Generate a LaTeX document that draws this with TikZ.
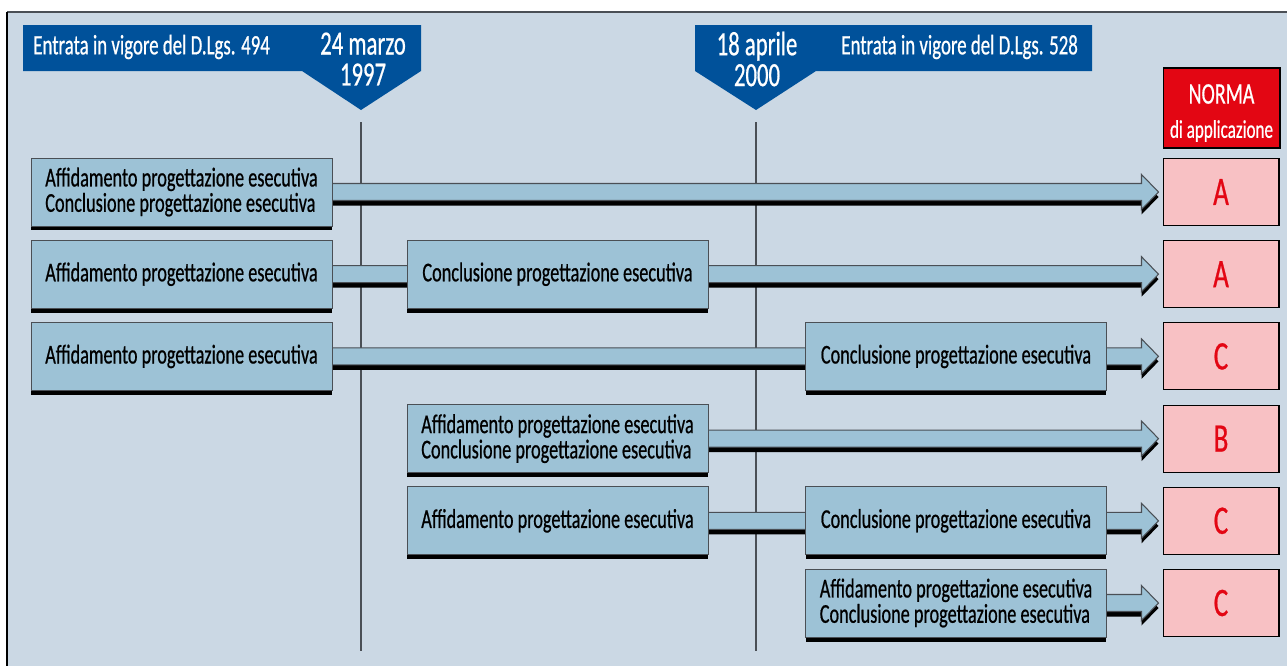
\documentclass[tikz,border=0pt]{standalone}
\usepackage{fontspec}
\setmainfont[FakeStretch=0.67, FakeBold=0.6]{Carlito}
\usetikzlibrary{calc,shadows}
\pgfdeclarelayer{bg}
\pgfsetlayers{bg,main}

\definecolor{panel}{HTML}{CBD8E4}
\definecolor{bluebar}{HTML}{00519A}
\definecolor{boxblue}{HTML}{9DC2D6}
\definecolor{pinkbox}{HTML}{F8C1C4}
\definecolor{normared}{HTML}{E30613}
\definecolor{edge}{HTML}{4A4F55}

\tikzset{
  phase/.style={draw=edge, line width=0.5pt, fill=boxblue, align=left,
    minimum width=6.02cm, minimum height=1.36cm, inner sep=0pt,
    font=\fontsize{15.5}{14.4}\selectfont,
    drop shadow={shadow xshift=0cm, shadow yshift=-0.09cm, opacity=1, fill=black}},
  norm/.style={draw=black, line width=0.6pt, fill=pinkbox, text=normared,
    minimum width=2.32cm, minimum height=1.34cm, font=\fontsize{23}{23}\selectfont},
  shaftbody/.style={fill=boxblue, draw=edge, line width=0.6pt},
  shaftshadow/.style={fill=black},
  bannertext/.style={text=white, inner sep=0pt, align=center},
  dateline/.style={draw=edge, line width=0.8pt},
}

% arrow shaft from a phase box to its norm box (#3 = downward offset)
\newcommand\shaftpath[3]{($(#1.east)+(-3,-8.5+#3)$) -- ($(#2.west)+(-21,-8.5+#3)$)
  -- ++(0,-9) -- ($(#2.west)+(-4,#3)$) -- ++(-17,17.5) -- ++(0,-9)
  -- ($(#1.east)+(-3,8.5+#3)$) -- cycle}
\newcommand\shaft[2]{%
  \begin{pgfonlayer}{bg}
    \fill[shaftshadow] \shaftpath{#1}{#2}{5};
    \filldraw[shaftbody] \shaftpath{#1}{#2}{0};
  \end{pgfonlayer}}

\begin{document}
\begin{tikzpicture}[x=0.02cm, y=-0.02cm]
\useasboundingbox (0,0) rectangle (1287,666);

\begin{pgfonlayer}{bg}
\fill[panel] (7,12) rectangle (1287,666);
\draw[edge, line width=1pt] (7,12) -- (1287,12);
\draw[black, line width=1.4pt] (7,12) -- (7,666);
\coordinate (l494top) at (361,122);
\coordinate (l494bot) at (361,651);
\coordinate (l528top) at (756,122);
\coordinate (l528bot) at (756,651);
\draw[dateline] (l494top) -- (l494bot);
\draw[dateline] (l528top) -- (l528bot);
\end{pgfonlayer}

% banners
\fill[bluebar] (23,25) -- (421,25) -- (421,71) -- (361,110) -- (302,71) -- (23,71) -- cycle;
\fill[bluebar] (695,25) -- (1092,25) -- (1092,71) -- (816,71) -- (756,110) -- (695,71) -- cycle;
\node[bannertext, anchor=west, font=\fontsize{16}{16}\selectfont] (law494) at (33,47) {Entrata in vigore del D.Lgs. 494};
\node[bannertext, font=\fontsize{19.3}{17.6}\selectfont] (date494) at (363,59) {24 marzo\\1997};
\node[bannertext, font=\fontsize{19.3}{17.6}\selectfont] (date528) at (757,59) {18 aprile\\2000};
\node[bannertext, anchor=west, font=\fontsize{16}{16}\selectfont] (law528) at (841,47) {Entrata in vigore del D.Lgs. 528};

\node[draw=black, line width=0.6pt, fill=normared, minimum width=2.34cm,
  minimum height=1.6cm] (norma) at (1221.5,108) {};
\node[bannertext, font=\fontsize{17}{17}\selectfont] (normatitle) at (1221.5,94) {NORMA};
\node[bannertext, font=\fontsize{14.5}{15}\selectfont] (normasub) at (1221.5,131) {di applicazione};

% row 1
\node[phase] (a1) at (181.5,192) {Affidamento progettazione esecutiva\\Conclusione progettazione esecutiva};
\node[norm] (n1) at (1221,192) {A};
% row 2
\node[phase] (a2) at (181.5,274.2) {Affidamento progettazione esecutiva};
\node[phase] (c2) at (557.5,274.2) {Conclusione progettazione esecutiva};
\node[norm] (n2) at (1221,274.2) {A};
% row 3
\node[phase] (a3) at (181.5,356.4) {Affidamento progettazione esecutiva};
\node[phase] (c3) at (956,356.4) {Conclusione progettazione esecutiva};
\node[norm] (n3) at (1221,356.4) {C};
% row 4
\node[phase] (a4) at (557.5,438.6) {Affidamento progettazione esecutiva\\Conclusione progettazione esecutiva};
\node[norm] (n4) at (1221,438.6) {B};
% row 5
\node[phase] (a5) at (557.5,520.8) {Affidamento progettazione esecutiva};
\node[phase] (c5) at (956,520.8) {Conclusione progettazione esecutiva};
\node[norm] (n5) at (1221,520.8) {C};
% row 6
\node[phase] (a6) at (956,603) {Affidamento progettazione esecutiva\\Conclusione progettazione esecutiva};
\node[norm] (n6) at (1221,603) {C};

\shaft{a1}{n1}
\shaft{a2}{n2}
\shaft{a3}{n3}
\shaft{a4}{n4}
\shaft{a5}{n5}
\shaft{a6}{n6}
\end{tikzpicture}
\end{document}
